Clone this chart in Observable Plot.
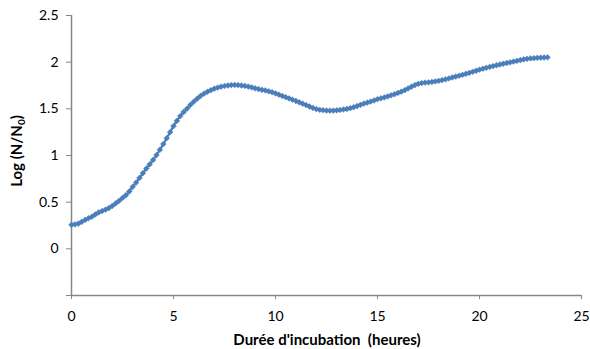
<!DOCTYPE html>
<html>
<head>
<meta charset="utf-8">
<script src="https://cdn.jsdelivr.net/npm/d3@7"></script>
<script src="https://cdn.jsdelivr.net/npm/@observablehq/plot@0.6"></script>
<style>
  html, body { margin: 0; padding: 0; background: #fff; }
  #chart svg { display: block; }
</style>
</head>
<body>
<div id="chart"></div>
<script>
// Incubation time (minutes)
const minutes = [
  0,10,20,30,40,50,60,70,80,90,100,110,120,130,140,150,160,170,180,190,
  200,210,220,230,240,250,260,270,280,290,300,310,320,330,340,350,360,370,380,390,
  400,410,420,430,440,450,460,470,480,490,500,510,520,530,540,550,560,570,580,590,
  600,610,620,630,640,650,660,670,680,690,700,710,720,730,740,750,760,770,780,790,
  800,810,820,830,840,850,860,870,880,890,900,910,920,930,940,950,960,970,980,990,
  1000,1010,1020,1030,1040,1050,1060,1070,1080,1090,1100,1110,1120,1130,1140,1150,1160,1170,1180,1190,
  1200,1210,1220,1230,1240,1250,1260,1270,1280,1290,1300,1310,1320,1330,1340,1350,1360,1370,1380,1390,
  1400
];
// Log(N/N0)
const logN = [
  0.257,0.262,0.270,0.290,0.310,0.328,0.345,0.368,0.390,0.405,0.420,0.437,0.460,0.487,0.515,0.545,0.575,0.615,0.665,0.710,
  0.760,0.810,0.860,0.905,0.952,1.005,1.062,1.122,1.185,1.250,1.315,1.372,1.422,1.466,1.503,1.543,1.578,1.610,1.640,1.663,
  1.683,1.700,1.716,1.728,1.737,1.745,1.750,1.755,1.756,1.754,1.750,1.745,1.738,1.730,1.720,1.712,1.704,1.697,1.688,1.678,
  1.666,1.652,1.638,1.625,1.611,1.598,1.584,1.570,1.555,1.540,1.525,1.510,1.498,1.490,1.485,1.482,1.480,1.481,1.484,1.488,
  1.493,1.499,1.507,1.518,1.530,1.543,1.556,1.567,1.578,1.590,1.603,1.613,1.622,1.633,1.645,1.657,1.670,1.684,1.700,1.718,
  1.737,1.755,1.768,1.776,1.781,1.784,1.788,1.794,1.800,1.808,1.816,1.826,1.836,1.846,1.855,1.865,1.875,1.886,1.897,1.908,
  1.919,1.930,1.940,1.949,1.958,1.967,1.975,1.983,1.991,1.998,2.006,2.014,2.022,2.030,2.036,2.040,2.043,2.046,2.048,2.050,
  2.052
];
const xTicks = [0, 5, 10, 15, 20, 25];
const yTicks = [-0.5, 0, 0.5, 1, 1.5, 2, 2.5];
const yTickLabels = ["", "0", "0.5", "1", "1.5", "2", "2.5"];
const xTitle = "Durée d'incubation  (heures)";
const yTitleMain = "Log (N/N";
const yTitleSub = "0";
const yTitleEnd = ")";

const data = minutes.map((m, i) => ({hours: m / 60, value: logN[i]}));
const blue = "#4A7EBB";
const axisGray = "#868686";

const plot = Plot.plot({
  width: 590,
  height: 349,
  marginLeft: 71,
  marginRight: 9,
  marginTop: 15,
  marginBottom: 54,
  style: {fontFamily: "Lato, 'Open Sans', sans-serif", fontSize: "14px", color: "#000", background: "#fff"},
  x: {domain: [0, 25]},
  y: {domain: [-0.5, 2.5]},
  marks: [
    Plot.axisX({ticks: xTicks, tickSize: 4, tickPadding: 12, stroke: axisGray, label: null, tickFormat: d => String(d)}),
    Plot.axisY({ticks: yTicks, tickSize: 5, tickPadding: 8, stroke: axisGray, label: null,
      tickFormat: d => yTickLabels[yTicks.indexOf(d)]}),
    Plot.ruleX([0], {stroke: axisGray, strokeWidth: 1.5}),
    Plot.ruleY([-0.5], {stroke: axisGray, strokeWidth: 1.5}),
    Plot.line(data, {x: "hours", y: "value", stroke: blue, strokeWidth: 2.2, curve: "monotone-x"}),
    Plot.dot(data, {x: "hours", y: "value", symbol: "diamond2", r: 2.6, fill: blue, stroke: blue, strokeWidth: 0.5})
  ]
});

const svg = d3.select(plot);
svg.append("text")
  .attr("x", 327).attr("y", 345)
  .attr("text-anchor", "middle")
  .attr("font-weight", "bold")
  .attr("font-size", 15)
  .attr("fill", "#000")
  .text(xTitle);

const yt = svg.append("text")
  .attr("transform", "translate(22,151) rotate(-90)")
  .attr("text-anchor", "middle")
  .attr("font-weight", "bold")
  .attr("font-size", 15)
  .attr("fill", "#000");
yt.append("tspan").text(yTitleMain);
yt.append("tspan").attr("font-size", 10).attr("dy", 3).text(yTitleSub);
yt.append("tspan").attr("dy", -3).text(yTitleEnd);

document.getElementById("chart").appendChild(plot);
</script>
</body>
</html>
